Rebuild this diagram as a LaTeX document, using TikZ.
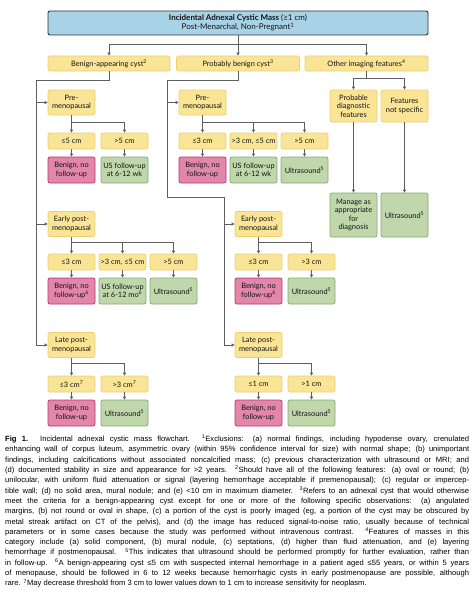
\documentclass[tikz,border=0pt]{standalone}
\usepackage{fontspec}
\setmainfont{Lato}
\newfontfamily\capfont{Liberation Sans}
\usepackage{xcolor}
\usetikzlibrary{arrows.meta,positioning,calc}

\definecolor{hdrblue}{RGB}{168,210,229}
\definecolor{ylwfill}{RGB}{250,228,150}
\definecolor{ylwline}{RGB}{238,208,112}
\definecolor{pnkfill}{RGB}{226,134,170}
\definecolor{pnkline}{RGB}{186,52,110}
\definecolor{grnfill}{RGB}{192,215,172}
\definecolor{grnline}{RGB}{132,170,112}
\definecolor{flowline}{RGB}{95,95,95}

\begin{document}
\begin{tikzpicture}[x=1pt,y=-1pt,
    box/.style={rounded corners=2pt, line width=0.7pt, inner sep=1pt, align=center,
      font=\fontsize{7.4}{8.5}\selectfont, text=black!92, minimum width=47pt},
    sizebox/.style={box, fill=ylwfill, draw=ylwline, minimum height=16pt},
    agebox/.style={box, fill=ylwfill, draw=ylwline, minimum height=25pt},
    pnkbox/.style={box, fill=pnkfill, draw=pnkline, minimum height=26pt},
    grnbox/.style={box, fill=grnfill, draw=grnline, minimum height=26pt},
    link/.style={draw=flowline, line width=0.8pt},
    arr/.style={link, -{Triangle[length=3pt,width=3pt]}}]
    \useasboundingbox (0,0) rectangle (474,594);

    % header and three categories
    \node[box, fill=hdrblue, draw=black!80, line width=0.9pt, minimum width=380pt, minimum height=24pt,
      font=\fontsize{8}{9.2}\selectfont] (mass) at (238,23)
      {\textbf{Incidental Adnexal Cystic Mass} (≥1 cm)\\Post-Menarchal, Non-Pregnant\textsuperscript{1}};
    \node[sizebox, minimum width=122pt, minimum height=15pt] (benign) at (109,63.5) {Benign-appearing cyst\textsuperscript{2}};
    \node[sizebox, minimum width=123pt, minimum height=15pt] (probable) at (238,63.5) {Probably benign cyst\textsuperscript{3}};
    \node[sizebox, minimum width=123pt, minimum height=15pt] (other) at (366.5,63.5) {Other imaging features\textsuperscript{4}};

    % benign-appearing
    \node[agebox] (bpre) at (71.5,102.5) {Pre-\\menopausal};
    \node[sizebox] (bpre1) at (71.5,141) {≤5 cm};
    \node[sizebox] (bpre2) at (124.5,141) {>5 cm};
    \node[pnkbox] (r-bpre1) at (71.5,170) {Benign, no\\follow-up};
    \node[grnbox] (r-bpre2) at (124.5,170) {US follow-up\\at 6-12 wk};

    \node[agebox] (bearly) at (71.5,224) {Early post-\\menopausal};
    \node[sizebox] (bearly1) at (71.5,262) {≤3 cm};
    \node[sizebox] (bearly2) at (122.5,262) {>3 cm, ≤5 cm};
    \node[sizebox] (bearly3) at (173.5,262) {>5 cm};
    \node[pnkbox] (r-bearly1) at (71.5,291) {Benign, no\\follow-up\textsuperscript{6}};
    \node[grnbox] (r-bearly2) at (122.5,291) {US follow-up\\at 6-12 mo\textsuperscript{6}};
    \node[grnbox] (r-bearly3) at (173.5,291) {Ultrasound\textsuperscript{5}};

    \node[agebox] (blate) at (71.5,345) {Late post-\\menopausal};
    \node[sizebox] (blate1) at (71.5,384) {≤3 cm\textsuperscript{7}};
    \node[sizebox] (blate2) at (124.5,384) {>3 cm\textsuperscript{7}};
    \node[pnkbox] (r-blate1) at (71.5,413) {Benign, no\\follow-up};
    \node[grnbox] (r-blate2) at (124.5,413) {Ultrasound\textsuperscript{5}};

    % probably benign
    \node[agebox] (ppre) at (202.5,102.5) {Pre-\\menopausal};
    \node[sizebox] (ppre1) at (202.5,141) {≤3 cm};
    \node[sizebox] (ppre2) at (253.5,141) {>3 cm, ≤5 cm};
    \node[sizebox] (ppre3) at (304.5,141) {>5 cm};
    \node[pnkbox] (r-ppre1) at (202.5,170) {Benign, no\\follow-up};
    \node[grnbox] (r-ppre2) at (253.5,170) {US follow-up\\at 6-12 wk};
    \node[grnbox] (r-ppre3) at (304.5,170) {Ultrasound\textsuperscript{5}};

    \node[agebox] (pearly) at (258.5,224) {Early post-\\menopausal};
    \node[sizebox] (pearly1) at (258.5,262) {≤3 cm};
    \node[sizebox] (pearly2) at (311.5,262) {>3 cm};
    \node[pnkbox] (r-pearly1) at (258.5,291) {Benign, no\\follow-up\textsuperscript{6}};
    \node[grnbox] (r-pearly2) at (311.5,291) {Ultrasound\textsuperscript{5}};

    \node[agebox] (plate) at (258.5,345) {Late post-\\menopausal};
    \node[sizebox] (plate1) at (258.5,384) {≤1 cm};
    \node[sizebox] (plate2) at (311.5,384) {>1 cm};
    \node[pnkbox] (r-plate1) at (258.5,413) {Benign, no\\follow-up};
    \node[grnbox] (r-plate2) at (311.5,413) {Ultrasound\textsuperscript{5}};

    % other imaging features
    \node[agebox, minimum height=32pt] (odiag) at (353.5,106) {Probable\\diagnostic\\features};
    \node[agebox, minimum height=32pt] (onon) at (404.5,106) {Features\\not specific};
    \node[grnbox, minimum height=44pt] (r-odiag) at (353.5,215) {Manage as\\appropriate\\for\\diagnosis};
    \node[grnbox, minimum height=44pt] (r-onon) at (404.5,215) {Ultrasound\textsuperscript{5}};

    % connectors
    \draw[arr] (mass.south) -- ++(0,9) -| (benign.north);
    \draw[arr] (mass.south) -- (probable.north);
    \draw[arr] (mass.south) -- ++(0,9) -| (other.north);

    \coordinate (bt) at (36,80);
    \draw[link] (benign.south) |- (bt);
    \draw[arr] (bt) |- (bpre.west);
    \draw[arr] (bt) |- (bearly.west);
    \draw[arr] (bt) |- (blate.west);

    \coordinate (pt) at (167,80);
    \coordinate (pk) at (224,197);
    \draw[link] (probable.south) |- (pt);
    \draw[arr] (pt) |- (ppre.west);
    \draw[link] (pt) |- (pk);
    \draw[arr] (pk) |- (pearly.west);
    \draw[arr] (pk) |- (plate.west);

    \draw[arr] (other.south) -- ++(0,7) -| (odiag.north);
    \draw[arr] (other.south) -- ++(0,7) -| (onon.north);

    \draw[arr] (bpre.south) -- ++(0,7) -| (bpre1.north);
    \draw[arr] (bpre.south) -- ++(0,7) -| (bpre2.north);
    \draw[arr] (bearly.south) -- ++(0,6) -| (bearly1.north);
    \draw[arr] (bearly.south) -- ++(0,6) -| (bearly2.north);
    \draw[arr] (bearly.south) -- ++(0,6) -| (bearly3.north);
    \draw[arr] (blate.south) -- ++(0,6) -| (blate1.north);
    \draw[arr] (blate.south) -- ++(0,6) -| (blate2.north);
    \draw[arr] (ppre.south) -- ++(0,7) -| (ppre1.north);
    \draw[arr] (ppre.south) -- ++(0,7) -| (ppre2.north);
    \draw[arr] (ppre.south) -- ++(0,7) -| (ppre3.north);
    \draw[arr] (pearly.south) -- ++(0,6) -| (pearly1.north);
    \draw[arr] (pearly.south) -- ++(0,6) -| (pearly2.north);
    \draw[arr] (plate.south) -- ++(0,6) -| (plate1.north);
    \draw[arr] (plate.south) -- ++(0,6) -| (plate2.north);

    \foreach \n in {bpre1,bpre2,bearly1,bearly2,bearly3,blate1,blate2,
                    ppre1,ppre2,ppre3,pearly1,pearly2,plate1,plate2,odiag,onon}
      \draw[arr] (\n.south) -- (r-\n.north);

    % caption
    \node[anchor=north west, inner sep=0pt, text width=464pt, align=justify,
      font=\capfont\fontsize{7.6}{10.3}\selectfont] (caption) at (5,435)
      {\textbf{Fig 1.} Incidental adnexal cystic mass flowchart. \textsuperscript{1}Exclusions: (a) normal findings, including hypodense ovary, crenulated\linebreak
      enhancing wall of corpus luteum, asymmetric ovary (within 95\% confidence interval for size) with normal shape; (b) unimportant\linebreak
      findings, including calcifications without associated noncalcified mass; (c) previous characterization with ultrasound or MRI; and\linebreak
      (d) documented stability in size and appearance for >2 years. \textsuperscript{2}Should have all of the following features: (a) oval or round; (b)\linebreak
      unilocular, with uniform fluid attenuation or signal (layering hemorrhage acceptable if premenopausal); (c) regular or impercep-\linebreak
      tible wall; (d) no solid area, mural nodule; and (e) <10 cm in maximum diameter. \textsuperscript{3}Refers to an adnexal cyst that would otherwise\linebreak
      meet the criteria for a benign-appearing cyst except for one or more of the following specific observations: (a) angulated\linebreak
      margins, (b) not round or oval in shape, (c) a portion of the cyst is poorly imaged (eg, a portion of the cyst may be obscured by\linebreak
      metal streak artifact on CT of the pelvis), and (d) the image has reduced signal-to-noise ratio, usually because of technical\linebreak
      parameters or in some cases because the study was performed without intravenous contrast. \textsuperscript{4}Features of masses in this\linebreak
      category include (a) solid component, (b) mural nodule, (c) septations, (d) higher than fluid attenuation, and (e) layering\linebreak
      hemorrhage if postmenopausal. \textsuperscript{5}This indicates that ultrasound should be performed promptly for further evaluation, rather than\linebreak
      in follow-up. \textsuperscript{6}A benign-appearing cyst ≤5 cm with suspected internal hemorrhage in a patient aged ≤55 years, or within 5 years\linebreak
      of menopause, should be followed in 6 to 12 weeks because hemorrhagic cysts in early postmenopause are possible, although\linebreak
      rare. \textsuperscript{7}May decrease threshold from 3 cm to lower values down to 1 cm to increase sensitivity for neoplasm.};
\end{tikzpicture}
\end{document}
